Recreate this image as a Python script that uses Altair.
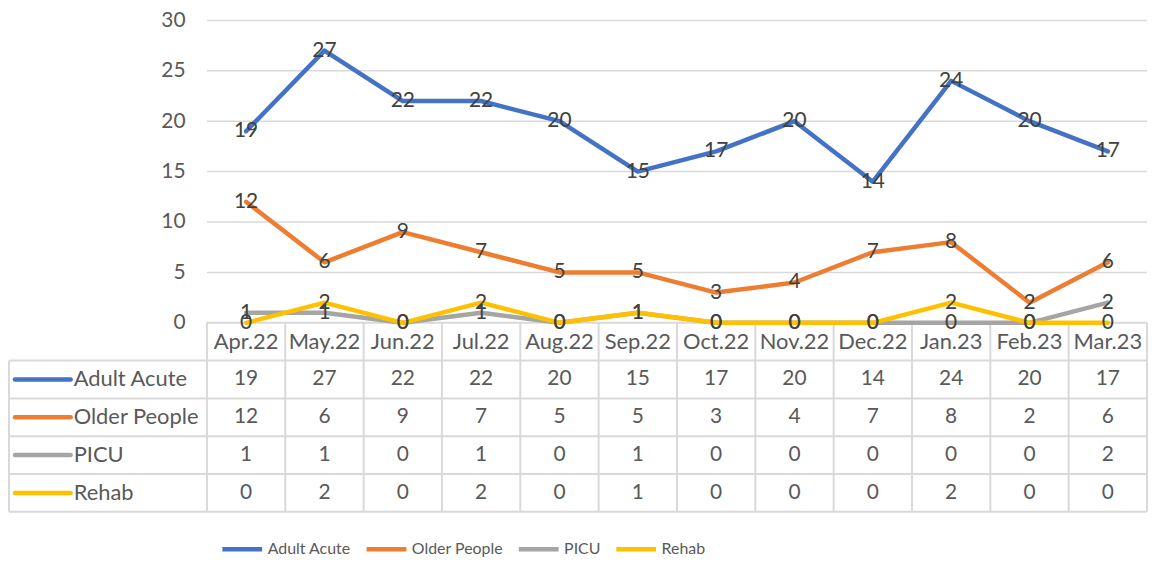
import altair as alt
import pandas as pd

months = ["Apr.22", "May.22", "Jun.22", "Jul.22", "Aug.22", "Sep.22",
          "Oct.22", "Nov.22", "Dec.22", "Jan.23", "Feb.23", "Mar.23"]
series_names = ["Adult Acute", "Older People", "PICU", "Rehab"]
adult_acute = [19, 27, 22, 22, 20, 15, 17, 20, 14, 24, 20, 17]
older_people = [12, 6, 9, 7, 5, 5, 3, 4, 7, 8, 2, 6]
picu = [1, 1, 0, 1, 0, 1, 0, 0, 0, 0, 0, 2]
rehab = [0, 2, 0, 2, 0, 1, 0, 0, 0, 2, 0, 0]
series_values = [adult_acute, older_people, picu, rehab]
colors = ["#4472C4", "#ED7D31", "#A5A5A5", "#FFC000"]
y_ticks = [0, 5, 10, 15, 20, 25, 30]

FONT = "Lato"
TXT = "#595959"
LBL = "#404040"
GRID = "#D9D9D9"

# layout in data units
W, H = 1144, 494
COLW = 78.76
LABEL_COL = 199 / COLW           # width of the label column in column units
ROW = 3.75                       # table row height in y units
X_DOM = [-LABEL_COL, 12]
Y_DOM = [-5 * ROW, 30]

rows = []
for s, vals in zip(series_names, series_values):
    for i, (m, v) in enumerate(zip(months, vals)):
        rows.append({"series": s, "month": m, "x": i + 0.5, "value": v,
                     "ty": -ROW * 1.5 - ROW * series_names.index(s)})
df = pd.DataFrame(rows)

hdr = pd.DataFrame({"month": months, "x": [i + 0.5 for i in range(12)],
                    "y": [-ROW / 2] * 12})

lab = pd.DataFrame({"series": series_names,
                    "x0": [-LABEL_COL + 6 / COLW] * 4,
                    "x1": [-LABEL_COL + 62 / COLW] * 4,
                    "xt": [-LABEL_COL + 65 / COLW] * 4,
                    "y": [-ROW * 1.5 - ROW * k for k in range(4)]})

grid = pd.DataFrame({"y": y_ticks[1:], "x0": [0] * 6, "x1": [12] * 6})

b = []
b.append({"x": 0, "x2": 12, "y": 0, "y2": 0})
for k in range(1, 6):
    b.append({"x": -LABEL_COL, "x2": 12, "y": -ROW * k, "y2": -ROW * k})
b.append({"x": -LABEL_COL, "x2": -LABEL_COL, "y": -ROW, "y2": -5 * ROW})
for k in range(13):
    b.append({"x": k, "x2": k, "y": 0, "y2": -5 * ROW})
borders = pd.DataFrame(b)

xs = alt.Scale(domain=X_DOM, nice=False, zero=False)
ys = alt.Scale(domain=Y_DOM, nice=False, zero=False)
yax = alt.Axis(values=y_ticks, title=None, grid=False, domain=False, ticks=False,
               offset=-199, labelPadding=22, labelFont=FONT, labelFontSize=21,
               labelColor=TXT)
cs = alt.Scale(domain=series_names, range=colors)

grid_l = alt.Chart(grid).mark_rule(color=GRID, strokeWidth=1.5).encode(
    x=alt.X("x0:Q", scale=xs, axis=None), x2="x1:Q",
    y=alt.Y("y:Q", scale=ys, axis=yax))

border_l = alt.Chart(borders).mark_rule(color=GRID, strokeWidth=2).encode(
    x=alt.X("x:Q", scale=xs, axis=None), x2="x2:Q",
    y=alt.Y("y:Q", scale=ys, axis=yax), y2="y2:Q")

line_layers = []
for s in series_names:
    line_layers.append(
        alt.Chart(df).transform_filter(alt.datum.series == s)
        .mark_line(strokeWidth=4.5, strokeCap="round", strokeJoin="round")
        .encode(
            x=alt.X("x:Q", scale=xs, axis=None),
            y=alt.Y("value:Q", scale=ys, axis=yax),
            color=alt.Color("series:N", scale=cs, legend=alt.Legend(
                title=None, orient="none", direction="horizontal",
                legendX=212, legendY=509, symbolType="stroke",
                symbolSize=1600, symbolStrokeWidth=4.5, labelFont=FONT,
                labelFontSize=16, labelColor=TXT, labelOffset=3,
                columnPadding=6)),
        ))

pt_labels = alt.Chart(df).mark_text(font=FONT, fontSize=21, color=LBL,
                                     baseline="middle", align="center").encode(
    x=alt.X("x:Q", scale=xs, axis=None),
    y=alt.Y("value:Q", scale=ys, axis=yax),
    text="value:Q")

cell_text = alt.Chart(df).mark_text(font=FONT, fontSize=21, color=TXT,
                                     baseline="middle", align="center").encode(
    x=alt.X("x:Q", scale=xs, axis=None),
    y=alt.Y("ty:Q", scale=ys, axis=yax),
    text="value:Q")

hdr_text = alt.Chart(hdr).mark_text(font=FONT, fontSize=22, color=TXT,
                                     baseline="middle", align="center").encode(
    x=alt.X("x:Q", scale=xs, axis=None),
    y=alt.Y("y:Q", scale=ys, axis=yax),
    text="month:N")

sym_l = alt.Chart(lab).mark_rule(strokeWidth=4.5, strokeCap="round").encode(
    x=alt.X("x0:Q", scale=xs, axis=None), x2="x1:Q",
    y=alt.Y("y:Q", scale=ys, axis=yax),
    color=alt.Color("series:N", scale=cs, legend=None))

lab_text = alt.Chart(lab).mark_text(font=FONT, fontSize=22, color=TXT,
                                     baseline="middle", align="left").encode(
    x=alt.X("xt:Q", scale=xs, axis=None),
    y=alt.Y("y:Q", scale=ys, axis=yax),
    text="series:N")

chart = alt.layer(grid_l, border_l, *line_layers, pt_labels, cell_text,
                  hdr_text, sym_l, lab_text).properties(
    width=W, height=H,
    padding={"left": 0, "right": 0, "top": 0, "bottom": 0},
).configure_view(stroke=None)

chart.save("out.html", embed_options={"renderer": "svg", "actions": False})
